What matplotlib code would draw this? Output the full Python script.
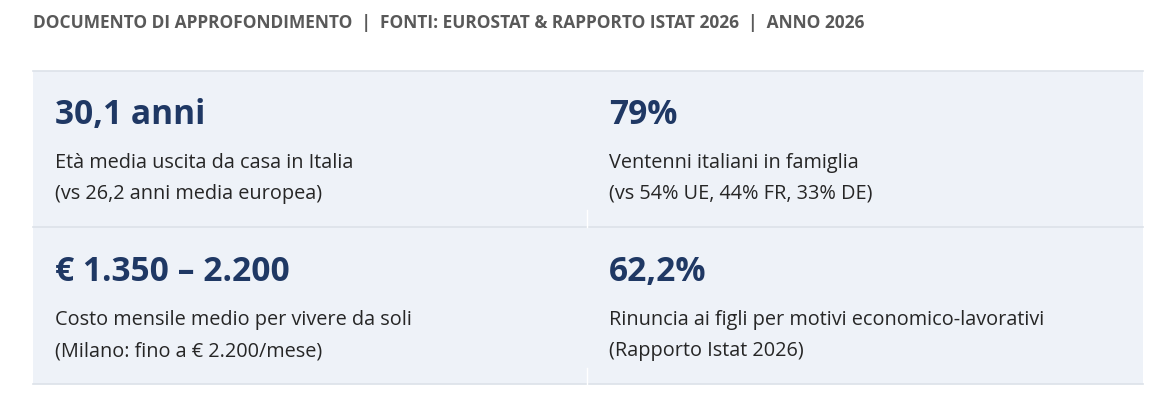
import matplotlib
matplotlib.use("Agg")
import matplotlib.pyplot as plt

# contents of the four cells
header = "DOCUMENTO DI APPROFONDIMENTO  |  FONTI: EUROSTAT & RAPPORTO ISTAT 2026  |  ANNO 2026"
values = ["30,1 anni", "79%", "€ 1.350 – 2.200", "62,2%"]
labels = ["Età media uscita da casa in Italia",
          "Ventenni italiani in famiglia",
          "Costo mensile medio per vivere da soli",
          "Rinuncia ai figli per motivi economico-lavorativi"]
notes = ["(vs 26,2 anni media europea)",
         "(vs 54% UE, 44% FR, 33% DE)",
         "(Milano: fino a € 2.200/mese)",
         "(Rapporto Istat 2026)"]

W, H = 1174, 403
fam = ["Open Sans", "DejaVu Sans"]
navy = "#1f3864"
bg = "#eef2f8"
line_c = "#dce2e9"

fig = plt.figure(figsize=(W / 100, H / 100), dpi=100)
ax = fig.add_axes([0, 0, 1, 1])
ax.set_xlim(0, W)
ax.set_ylim(H, 0)
ax.axis("off")

# table background and rules
ax.add_patch(plt.Rectangle((33, 71), 1110, 313, color=bg, lw=0, zorder=0))
for y in [71, 227, 384]:
    ax.plot([33, 1143], [y, y], color=line_c, lw=1.2, zorder=1)
for y0, y1 in [(210, 227), (368, 384)]:
    ax.plot([587, 587], [y0, y1], color="white", lw=1, zorder=1)

fig.canvas.draw()
r = fig.canvas.get_renderer()


def fit(s, target, weight, base=20):
    t = ax.text(0, 0, s, fontsize=base, family=fam, weight=weight)
    w = t.get_window_extent(renderer=r).width
    t.remove()
    return base * target / w


hs = fit(header, 838, "bold")
vs = fit(values[2], 235, "bold")
ds = fit(labels[3], 434, "normal")

ax.text(33, 28, header, fontsize=hs, family=fam, weight="bold",
        color="#595959", va="baseline")

cols = [55, 609]
rows = [124, 281]
for i in range(4):
    x = cols[i % 2]
    y = rows[i // 2]
    ax.text(x, y, values[i], fontsize=vs, family=fam, weight="bold",
            color=navy, va="baseline")
    ax.text(x, y + 44, labels[i], fontsize=ds, family=fam,
            color="#262626", va="baseline")
    ax.text(x, y + 75, notes[i], fontsize=ds, family=fam,
            color="#262626", va="baseline")

fig.savefig("out.png", dpi=100, facecolor="white")
